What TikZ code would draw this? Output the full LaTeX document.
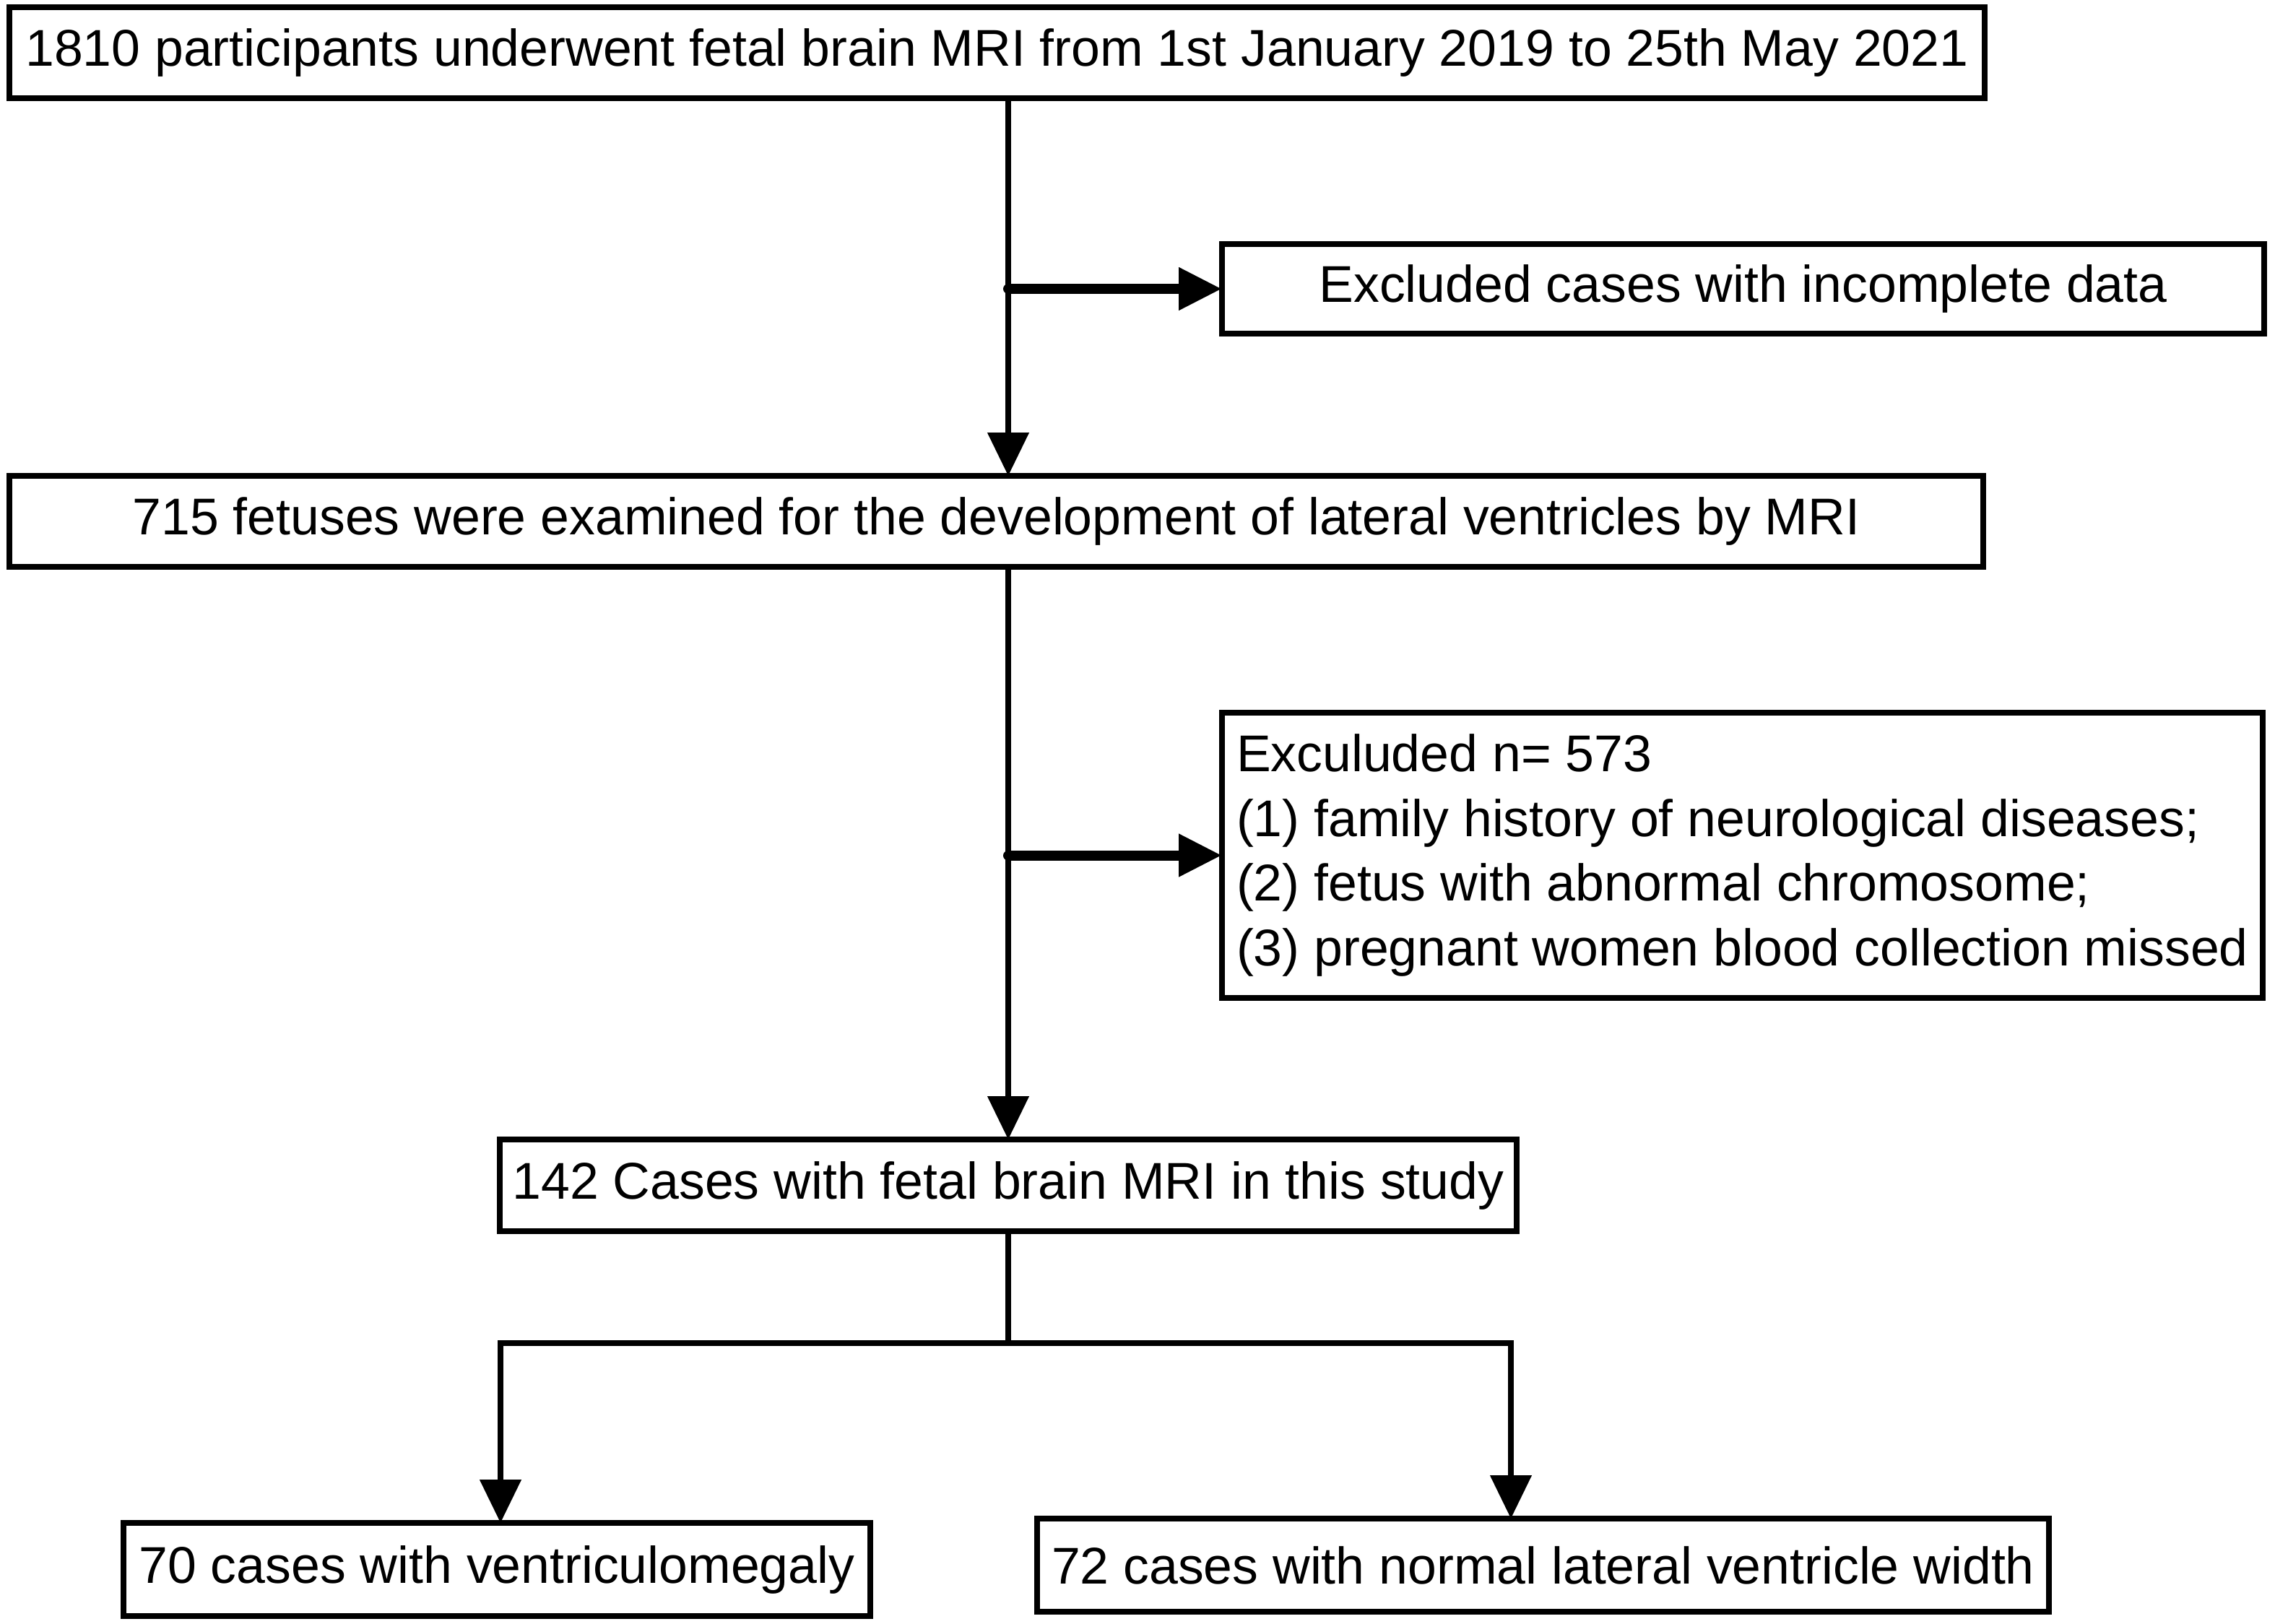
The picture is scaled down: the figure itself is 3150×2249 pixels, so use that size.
\documentclass[tikz,border=0pt]{standalone}
\usepackage{fontspec}
\setmainfont{Liberation Sans}
\usetikzlibrary{arrows.meta}

\begin{document}
\begin{tikzpicture}[x=0.25pt,y=0.25pt,yscale=-1,xscale=1,
	box/.style={draw, line width=2.1pt, inner sep=0pt, outer sep=0pt, font=\fontsize{17.9}{22.4}\selectfont},
	flow/.style={line width=2pt, -{Triangle[length=15pt,width=14pt]}},
	side/.style={line width=3.5pt, line cap=round, -{Triangle[length=15pt,width=14pt]}}]
	\useasboundingbox (0,0) rectangle (3150,2249);
	
	% Boxes
	\node[box, minimum width=683.75pt, minimum height=31.5pt] (screened) at (1380.5,73) {1810 participants underwent fetal brain MRI from 1st January 2019 to 25th May 2021};
	\node[box, minimum width=360.75pt, minimum height=31pt] (incomplete) at (2413.5,400) {Excluded cases with incomplete data};
	\node[box, minimum width=683.25pt, minimum height=31.5pt] (examined) at (1379.5,722) {715 fetuses were examined for the development of lateral ventricles by MRI};
	\node[box, minimum width=360.25pt, minimum height=98.75pt, align=left] (excluded) at (2412.5,1184.5) {Exculuded n= 573\\(1) family history of neurological diseases;\\(2) fetus with abnormal chromosome;\\(3) pregnant women blood collection missed};
	\node[box, minimum width=352pt, minimum height=31.75pt] (study) at (1396,1641.5) {142 Cases with fetal brain MRI in this study};
	\node[box, minimum width=258.5pt, minimum height=32.25pt] (vm) at (688,2173.5) {70 cases with ventriculomegaly};
	\node[box, minimum width=350.25pt, minimum height=32.25pt] (normal) at (2136.5,2167.5) {72 cases with normal lateral ventricle width};
	
	% Split points
	\coordinate (split) at (1396,1860);
	\coordinate (lbend) at (693,1860);
	\coordinate (rbend) at (2092,1860);
	
	% Connectors
	\draw[flow] (screened.south -| study) -- (examined.north -| study);
	\draw[side] (incomplete.west -| study) -- (incomplete.west);
	\draw[flow] (examined.south -| study) -- (study.north);
	\draw[side] (excluded.west -| study) -- (excluded.west);
	\draw[line width=2pt] (study.south) -- (split);
	\draw[flow] (split) -| (lbend |- vm.north);
	\draw[flow] (split) -| (rbend |- normal.north);
	
\end{tikzpicture}
\end{document}
